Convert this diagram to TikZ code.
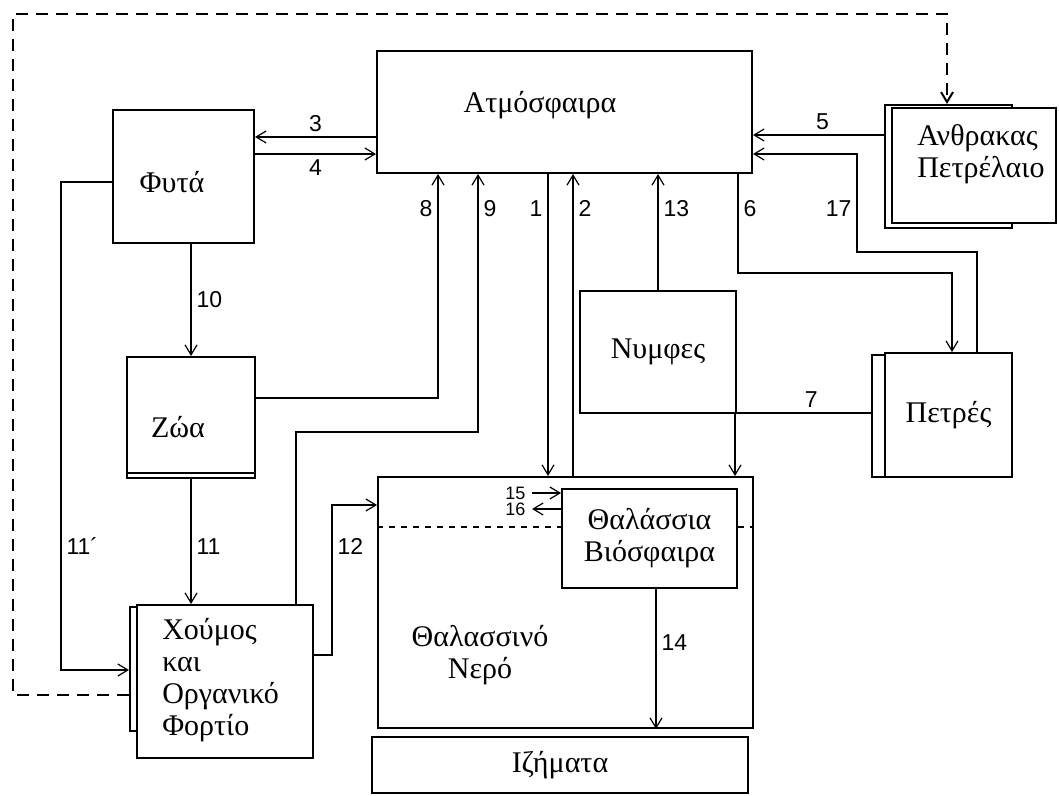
\documentclass[tikz,border=0pt]{standalone}
\usepackage{fontspec}
\setmainfont{Liberation Serif}
\newfontfamily\numfont{Liberation Sans}
\usetikzlibrary{arrows.meta, positioning, calc}
\tikzset{
    carbon/.style={>={Straight Barb[length=5pt,width=6pt]}, line width=0.6pt,
        font=\fontsize{15}{16}\selectfont, x=0.5pt, y=-0.5pt},
    box/.style={draw, line width=1pt, fill=white, inner sep=0pt},
    backbox/.style={draw, line width=1pt, inner sep=0pt},
    num/.style={font=\numfont\fontsize{11.5}{12}\selectfont, inner sep=2.5pt},
    smallnum/.style={font=\numfont\fontsize{9}{9}\selectfont, inner sep=3pt},
    % the long dashed return line
    returnline/.style={line width=1pt, dash pattern=on 6pt off 4pt},
}
\begin{document}
\begin{tikzpicture}[carbon]
\useasboundingbox (0,0) rectangle (1059,796);
% boxes behind (double edges)
\node[backbox, minimum width=10pt, minimum height=62pt] (humusbk) at (140,669) {};
\node[backbox, minimum width=63.5pt, minimum height=61.5pt] (coalbk) at (948.5,166.5) {};
\node[backbox, minimum width=64pt, minimum height=61pt] (rocksbk) at (936,416) {};
% main boxes
\node[box, minimum width=187.5pt, minimum height=61pt] (atmo) at (564.5,112) {};
\node[box, minimum width=70.5pt, minimum height=66.5pt] (plants) at (183.5,176.5) {};
\node[box, minimum width=64pt, minimum height=60.5pt] (animals) at (191,417.5) {};
\node[box, minimum width=88pt, minimum height=76.5pt] (humus) at (225,681.5) {};
\node[box, minimum width=187.5pt, minimum height=125.5pt] (sea) at (565.5,602.5) {};
\node[box, minimum width=87.5pt, minimum height=49.5pt, align=center] (biosph) at (649.5,538.5) {Θαλάσσια\\Βιόσφαιρα};
\node[box, minimum width=78pt, minimum height=61pt] (nymphs) at (658,352) {Νυμφες};
\node[box, minimum width=63.5pt, minimum height=62pt] (rocks) at (948.5,415) {Πετρές};
\node[box, minimum width=82pt, minimum height=57.5pt] (coal) at (974,165.5) {};
\node[box, minimum width=188pt, minimum height=28pt] (sedim) at (560,765) {Ιζήματα};
\draw[line width=1pt] ([yshift=3pt]animals.south west) -- ([yshift=3pt]animals.south east);

% texts
\node (atmotxt) at (540,105) {Ατμόσφαιρα};
\node (plantstxt) at (172,182) {Φυτά};
\node (animalstxt) at (178,427) {Ζώα};
\node[anchor=west, align=left] (humustxt) at (155,680) {Χούμος\\και\\Οργανικό\\Φορτίο};
\node[align=center] (seatxt) at (480,655) {Θαλασσινό\\Νερό};
\node[anchor=west, align=left] (coaltxt) at (910,154) {Ανθρακας\\Πετρέλαιο};

% flows
\draw[returnline, ->] (humusbk.west |- 0,695) -- (13,695) -- (13,14) -- (947,14) -- (coalbk.north -| 947,0);
\draw[->] (atmo.west |- 0,137) -- node[num, above] (n3) {3} (plants.east |- 0,137);
\draw[->] (plants.east |- 0,154) -- node[num, below] (n4) {4} (atmo.west |- 0,154);
\draw[->] (coalbk.west |- 0,135) -- node[num, above, pos=0.47] (n5) {5} (atmo.east |- 0,135);
\draw[->] (atmo.south -| 738,0) |- node[num, right, pos=0.175] (n6) {6} (952,273) -- (rocks.north -| 952,0);
\draw[->] (rocksbk.west |- 0,413) -| node[num, above, pos=0.22] (n7) {7} (sea.north -| 735,0);
\draw[->] (rocks.north -| 977,0) |- (857,252) |- node[num, left, pos=0.22] (n17) {17} (atmo.east |- 0,154);
\draw[->] (atmo.south -| 548,0) -- node[num, left, pos=0.115] (n1) {1} (sea.north -| 548,0);
\draw[->] (sea.north -| 573,0) -- node[num, right, pos=0.885] (n2) {2} (atmo.south -| 573,0);
\draw[->] (nymphs.north) -- node[num, right, pos=0.7] (n13) {13} (atmo.south -| nymphs.north);
\draw[->] (animals.east |- 0,398) -| node[num, left, pos=0.922] (n8) {8} (atmo.south -| 438,0);
\draw[->] (humus.north -| 296,0) |- (478,432) -- node[num, right, pos=0.865] (n9) {9} (atmo.south -| 478,0);
\draw[->] (animals.north |- plants.south) -- node[num, right] (n10) {10} (animals.north);
\draw[->] (animals.south) -- node[num, right, pos=0.54] (n11) {11} (animals.south |- humus.north);
\draw[->] (plants.west |- 0,182) -| node[num, right, pos=0.873] (n11b) {11´} (61,670) -- (humusbk.west |- 0,670);
\draw[->] (humus.east |- 0,655) -| node[num, right, pos=0.863] (n12) {12} (332,505) -- (sea.west |- 0,505);
\draw[->] (biosph.south -| 656,0) -- node[num, right, pos=0.386] (n14) {14} (sea.south -| 656,0);
\coordinate (f15) at (532,493);
\coordinate (f16) at (532,509);
\draw[->] (f15) node[smallnum, left] (n15) {15} -- (biosph.west |- f15);
\draw[->] (biosph.west |- f16) -- (f16) node[smallnum, left] (n16) {16};
\draw[dashed] (sea.west |- 0,527) -- (biosph.west |- 0,527) (biosph.east |- 0,527) -- (sea.east |- 0,527);
\end{tikzpicture}
\end{document}
